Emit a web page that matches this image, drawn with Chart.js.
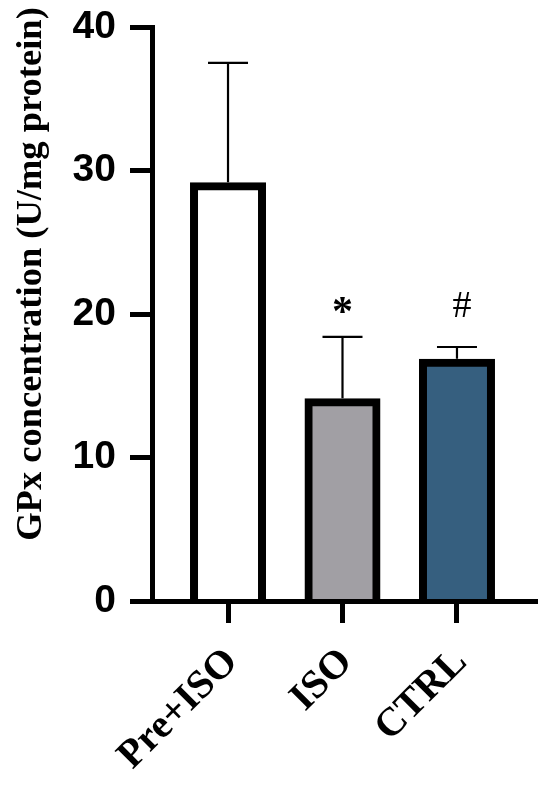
<!DOCTYPE html>
<html>
<head>
<meta charset="utf-8">
<script src="https://cdn.jsdelivr.net/npm/chart.js@4.4.1/dist/chart.umd.min.js"></script>
<style>
html, body { margin: 0; padding: 0; background: #fff; }
</style>
</head>
<body>
<canvas id="gpxChart" width="550" height="788"></canvas>
<script>
// values
const groups = ['Pre+ISO', 'ISO', 'CTRL'];
const means = [28.9, 13.85, 16.6];
const errTops = [37.5, 18.4, 17.7];   // mean + SD
const marks = ['', '*', '#'];
const yTicks = [0, 10, 20, 30, 40];
const yTitle = 'GPx concentration (U/mg protein)';

const barFills = ['#ffffff', '#a19fa4', '#365f7f'];
const MARK_LEVEL = 20.6;

const errorBars = {
    id: 'errorBars',
    afterDatasetsDraw(chart) {
        const ctx = chart.ctx;
        const xs = chart.scales.x;
        const ys = chart.scales.y;
        ctx.save();
        ctx.strokeStyle = '#000';
        ctx.lineWidth = 2.2;
        errTops.forEach((top, i) => {
            const px = xs.getPixelForValue(i);
            const barTop = ys.getPixelForValue(means[i]) - 4;
            const errTop = ys.getPixelForValue(top);
            ctx.beginPath();
            ctx.moveTo(px, barTop);
            ctx.lineTo(px, errTop);
            ctx.moveTo(px - 20, errTop);
            ctx.lineTo(px + 20, errTop);
            ctx.stroke();
        });

        ctx.fillStyle = '#000';
        ctx.textAlign = 'center';
        ctx.textBaseline = 'middle';
        marks.forEach((m, i) => {
            if (!m) return;
            ctx.font = m === '*' ? 'bold 42px "Liberation Serif"' : '38px "Liberation Serif"';
            const dy = m === '*' ? 9 : 2;
            ctx.fillText(m, xs.getPixelForValue(i) + (m === '#' ? 5 : 0), ys.getPixelForValue(MARK_LEVEL) + dy);
        });

        // y axis title
        ctx.save();
        ctx.translate(32, 274);
        ctx.rotate(-Math.PI / 2);
        ctx.font = 'bold 36.5px "Liberation Serif"';
        ctx.fillText(yTitle, 0, 0);
        ctx.restore();
        ctx.restore();
    }
};

const ctx = document.getElementById('gpxChart').getContext('2d');
new Chart(ctx, {
    type: 'bar',
    data: {
        datasets: [{
            data: groups.map((g, i) => ({ x: i, y: means[i] })),
            backgroundColor: barFills,
            borderColor: '#000',
            borderWidth: 8,
            barThickness: 68,
            inflateAmount: 4,
            clip: { left: false, top: false, right: false, bottom: 0 }
        }]
    },
    options: {
        responsive: false,
        animation: false,
        layout: { padding: { top: 27, right: 13, bottom: 0, left: 0 } },
        plugins: {
            legend: { display: false },
            tooltip: { enabled: false }
        },
        scales: {
            x: {
                type: 'linear',
                offset: false,
                min: -0.664,
                max: 2.699,
                afterBuildTicks: s => { s.ticks = groups.map((g, i) => ({ value: i })); },
                afterFit: s => { s.height = 187; s.paddingLeft = 0; s.paddingRight = 0; },
                grid: { offset: false, drawOnChartArea: false, drawTicks: true, tickLength: 22, tickWidth: 5, tickColor: '#000' },
                border: { display: true, color: '#000', width: 5, z: 1 },
                ticks: {
                    autoSkip: false,
                    maxRotation: 45,
                    minRotation: 45,
                    padding: 16,
                    labelOffset: 4,
                    color: '#000',
                    font: { family: '"Liberation Serif", "Times New Roman", serif', size: 40, weight: 'bold' },
                    callback: v => groups[v]
                }
            },
            y: {
                min: 0,
                max: 40,
                afterBuildTicks: s => { s.ticks = yTicks.map(v => ({ value: v })); },
                afterFit: s => { s.width = 152; s.paddingTop = 0; s.paddingBottom = 0; },
                grid: { drawOnChartArea: false, drawTicks: true, tickLength: 22, tickWidth: 5, tickColor: '#000' },
                border: { display: true, color: '#000', width: 5, z: 1 },
                ticks: {
                    padding: 14,
                    color: '#000',
                    font: { family: '"Liberation Sans", Arial, sans-serif', size: 39, weight: 'bold' }
                }
            }
        }
    },
    plugins: [errorBars]
});
</script>
</body>
</html>
